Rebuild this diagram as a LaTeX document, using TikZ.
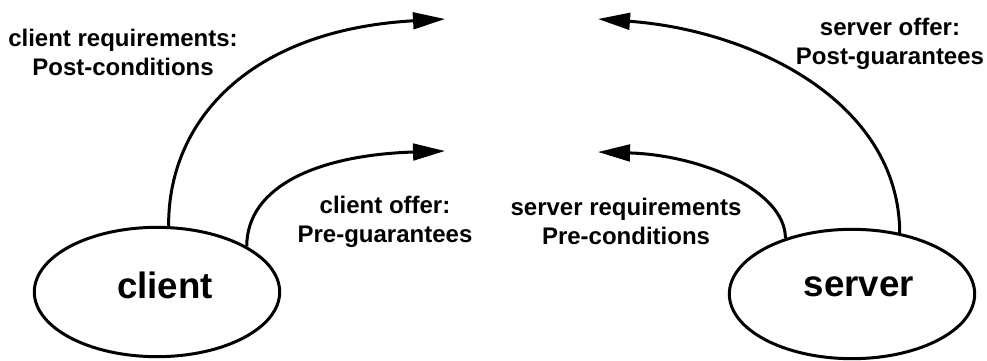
\documentclass[tikz,border=0pt]{standalone}
\usepackage{fontspec}
\setmainfont{Liberation Sans}
\usetikzlibrary{shapes.geometric,arrows.meta}
\tikzset{
  party/.style={ellipse,draw,line width=2.25pt,minimum width=184pt,minimum height=97pt,inner sep=0pt,font=\bfseries\fontsize{27.5}{30}\selectfont},
  lbl/.style={align=center,inner sep=0pt,font=\bfseries\fontsize{18}{21.75}\selectfont},
  conn/.style={line width=2.25pt,-{Triangle[length=24pt,width=12.5pt]}}
}
\begin{document}
\begin{tikzpicture}[x=0.75pt,y=-0.75pt]
\useasboundingbox (0,0) rectangle (987,360);
\node[party] (client) at (157,292) {};
\node[font=\bfseries\fontsize{27.5}{30}\selectfont] (clientt) at (165,285) {client};
\node[party] (server) at (852,294) {};
\node[font=\bfseries\fontsize{27.5}{30}\selectfont] (servert) at (859,287) {server};
\coordinate (t1) at (445,19);
\coordinate (t2) at (445,151);
\coordinate (t3) at (598,152);
\coordinate (t4) at (598,19);
\node[lbl] (l1) at (123,52) {client requirements:\\Post-conditions};
\node[lbl] (l2) at (385,222) {client offer:\\Pre-guarantees};
\node[lbl] (l3) at (626,221) {server requirements\\Pre-conditions};
\node[lbl] (l4) at (890,44) {server offer:\\Post-guarantees};
\draw[conn] (client.80) .. controls (168,120) and (250,30) .. (t1);
\draw[conn] (client.27) .. controls (247,185) and (320,155) .. (t2);
\draw[conn] (server.140) .. controls (785,190) and (700,155) .. (t3);
\draw[conn] (server.52) .. controls (899,100) and (750,30) .. (t4);
\end{tikzpicture}
\end{document}
